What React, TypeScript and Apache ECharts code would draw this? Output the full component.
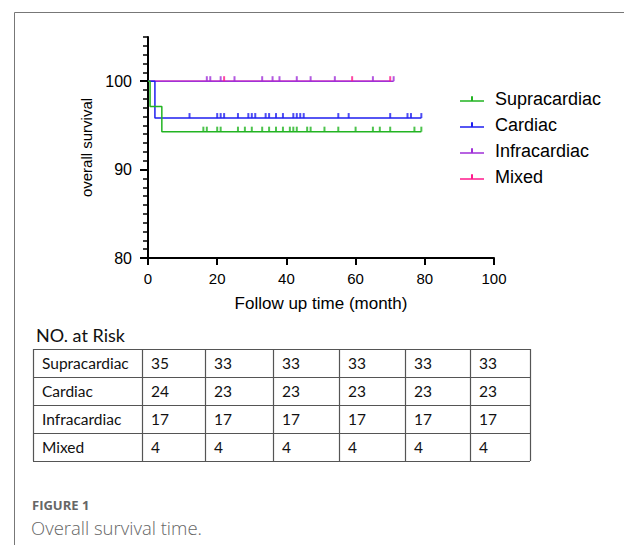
import React, { useEffect, useRef } from "react";
import * as echarts from "echarts";

// ---- data ----
const groups = ["Supracardiac", "Cardiac", "Infracardiac", "Mixed"];
const colors = ["#22b422", "#1f1ff0", "#a030d8", "#ff1a8c"];

// Kaplan-Meier step curves (time in months, survival %)
const supraTimes = [0, 0.6, 4, 79];
const supraSurv = [100, 97.14, 94.29, 94.29];
const cardiacTimes = [0, 2, 79];
const cardiacSurv = [100, 95.83, 95.83];
const infraTimes = [0, 71];
const infraSurv = [100, 100];
const mixedTimes = [0, 70];
const mixedSurv = [100, 100];

// censored times
const supraCensor = [16, 17, 20, 21, 26, 28, 30, 33, 35, 37, 39, 41, 42, 43, 46, 47, 51, 55, 60, 65, 67, 70, 77, 79];
const cardiacCensor = [12, 20, 21, 22, 26, 29, 30, 31, 34, 35, 37, 39, 42, 43, 44, 45, 55, 58, 70, 75, 76, 79];
const infraCensor = [17, 18, 21, 25, 33, 36, 38, 43, 47, 54, 65, 71];
const mixedCensor = [22, 59, 70];

// number at risk table
const riskTitle = "NO. at Risk";
const riskRowNames = ["Supracardiac", "Cardiac", "Infracardiac", "Mixed"];
const riskSupra = [35, 33, 33, 33, 33, 33];
const riskCardiac = [24, 23, 23, 23, 23, 23];
const riskInfra = [17, 17, 17, 17, 17, 17];
const riskMixed = [4, 4, 4, 4, 4, 4];

const xTitle = "Follow up time (month)";
const yTitle = "overall survival";
const captionLabel = "FIGURE 1";
const captionText = "Overall survival time.";

const curves = [
  { times: supraTimes, surv: supraSurv, censor: supraCensor },
  { times: cardiacTimes, surv: cardiacSurv, censor: cardiacCensor },
  { times: infraTimes, surv: infraSurv, censor: infraCensor },
  { times: mixedTimes, surv: mixedSurv, censor: mixedCensor },
];
const riskRows = [riskSupra, riskCardiac, riskInfra, riskMixed];

function levelAt(times: number[], surv: number[], t: number) {
  let v = surv[0];
  for (let i = 0; i < times.length; i++) if (times[i] <= t) v = surv[i];
  return v;
}

const AXIS_FONT = "'Liberation Sans', Arial, sans-serif";
const TABLE_FONT = "Lato, 'Open Sans', sans-serif";

export default function App() {
  const ref = useRef<HTMLDivElement>(null);
  useEffect(() => {
    if (!ref.current) return;
    const chart = echarts.init(ref.current, null, { renderer: "svg" });

    const series: any[] = [];
    // mixed drawn first so infracardiac line covers it
    const order = [3, 2, 1, 0];
    order.forEach((i) => {
      const c = curves[i];
      series.push({
        type: "line",
        name: groups[i],
        step: "end",
        symbol: "none",
        data: c.times.map((t, k) => [t, c.surv[k]]),
        lineStyle: { color: colors[i], width: 1.5 },
        itemStyle: { color: colors[i] },
        z: 2,
        silent: true,
      });
    });
    [2, 1, 0, 3].forEach((i) => {
      const c = curves[i];
      series.push({
        type: "scatter",
        name: "censor-" + groups[i],
        symbol: "rect",
        symbolSize: [2, 5],
        symbolOffset: [0, -2.5],
        data: c.censor.map((t) => [t, levelAt(c.times, c.surv, t)]),
        itemStyle: { color: colors[i] },
        z: 3,
        silent: true,
      });
    });

    // table graphics
    const colX = [33, 142, 205, 273, 339, 405, 470, 530];
    const rowY = [349, 377, 405, 433, 461];
    const graphic: any[] = [];
    graphic.push({
      type: "rect",
      shape: { x: 14.5, y: 12.5, width: 800, height: 800 },
      style: { fill: "none", stroke: "#777", lineWidth: 1 },
      silent: true,
    });
    rowY.forEach((y) => {
      graphic.push({
        type: "line",
        shape: { x1: colX[0], y1: y + 0.5, x2: colX[colX.length - 1], y2: y + 0.5 },
        style: { stroke: "#555", lineWidth: 1.2 },
        silent: true,
      });
    });
    colX.forEach((x) => {
      graphic.push({
        type: "line",
        shape: { x1: x + 0.5, y1: rowY[0], x2: x + 0.5, y2: rowY[rowY.length - 1] },
        style: { stroke: "#555", lineWidth: 1.2 },
        silent: true,
      });
    });
    graphic.push({
      type: "text",
      x: 36,
      y: 335,
      style: { text: riskTitle, font: `18px ${TABLE_FONT}`, fill: "#111", verticalAlign: "middle" },
      silent: true,
    });
    riskRowNames.forEach((name, r) => {
      const cy = rowY[r] + 14;
      graphic.push({
        type: "text",
        x: colX[0] + 9,
        y: cy,
        style: { text: name, font: `15.5px ${TABLE_FONT}`, fill: "#111", verticalAlign: "middle" },
        silent: true,
      });
      riskRows[r].forEach((v, j) => {
        graphic.push({
          type: "text",
          x: colX[j + 1] + 9,
          y: cy,
          style: { text: String(v), font: `15.5px ${TABLE_FONT}`, fill: "#111", verticalAlign: "middle" },
          silent: true,
        });
      });
    });
    graphic.push({
      type: "text",
      x: 32,
      y: 505,
      style: { text: captionLabel, font: `bold 13px 'Open Sans', sans-serif`, fill: "#666", verticalAlign: "middle" },
      silent: true,
    });
    graphic.push({
      type: "text",
      x: 31,
      y: 527,
      style: { text: captionText, font: `300 18.5px 'Open Sans', sans-serif`, fill: "#666", verticalAlign: "middle" },
      silent: true,
    });

    chart.setOption({
      animation: false,
      grid: { left: 148, right: 130, top: 37, bottom: 287, containLabel: false },
      legend: {
        data: groups.map((g, i) => ({
          name: g,
          icon: "path://M0,7H24V8.6H0Z M11,3H13V7H11Z",
          itemStyle: { color: colors[i] },
        })),
        orient: "vertical",
        left: 455,
        top: 84,
        itemWidth: 24,
        itemHeight: 6,
        itemGap: 6,
        selectedMode: false,
        textStyle: {
          fontSize: 18,
          fontFamily: AXIS_FONT,
          color: "#000",
          lineHeight: 20,
          padding: [0, 0, 0, 6],
        },
      },
      xAxis: {
        type: "value",
        min: 0,
        max: 100,
        interval: 20,
        name: xTitle,
        nameLocation: "middle",
        nameGap: 37,
        nameTextStyle: { fontSize: 17, fontFamily: AXIS_FONT, color: "#000" },
        axisLine: { lineStyle: { color: "#000", width: 2 } },
        axisTick: { length: 7, lineStyle: { color: "#000", width: 2 } },
        axisLabel: { fontSize: 15, fontFamily: AXIS_FONT, color: "#000", margin: 13 },
        splitLine: { show: false },
      },
      yAxis: [
        {
          type: "value",
          min: 80,
          max: 105,
          interval: 10,
          name: yTitle,
          nameLocation: "middle",
          nameGap: 50,
          nameTextStyle: { fontSize: 15, fontFamily: AXIS_FONT, color: "#000" },
          axisLine: { show: true, lineStyle: { color: "#000", width: 2 } },
          axisTick: { show: true, length: 8, customValues: [80, 90, 100], lineStyle: { color: "#000", width: 2 } },
          axisLabel: { fontSize: 16, fontFamily: AXIS_FONT, color: "#000", margin: 16, customValues: [80, 90, 100] },
          splitLine: { show: false },
        },
        {
          type: "value",
          min: 80,
          max: 105,
          interval: 1,
          position: "left",
          axisLine: { show: false },
          axisTick: { show: true, length: 5, lineStyle: { color: "#000", width: 1.5 } },
          axisLabel: { show: false },
          splitLine: { show: false },
        },
      ],
      series,
      graphic,
    });
    return () => chart.dispose();
  }, []);
  return (
    <div
      ref={ref}
      style={{ position: "absolute", left: 0, top: 0, width: 624, height: 545, background: "#fff" }}
    />
  );
}
